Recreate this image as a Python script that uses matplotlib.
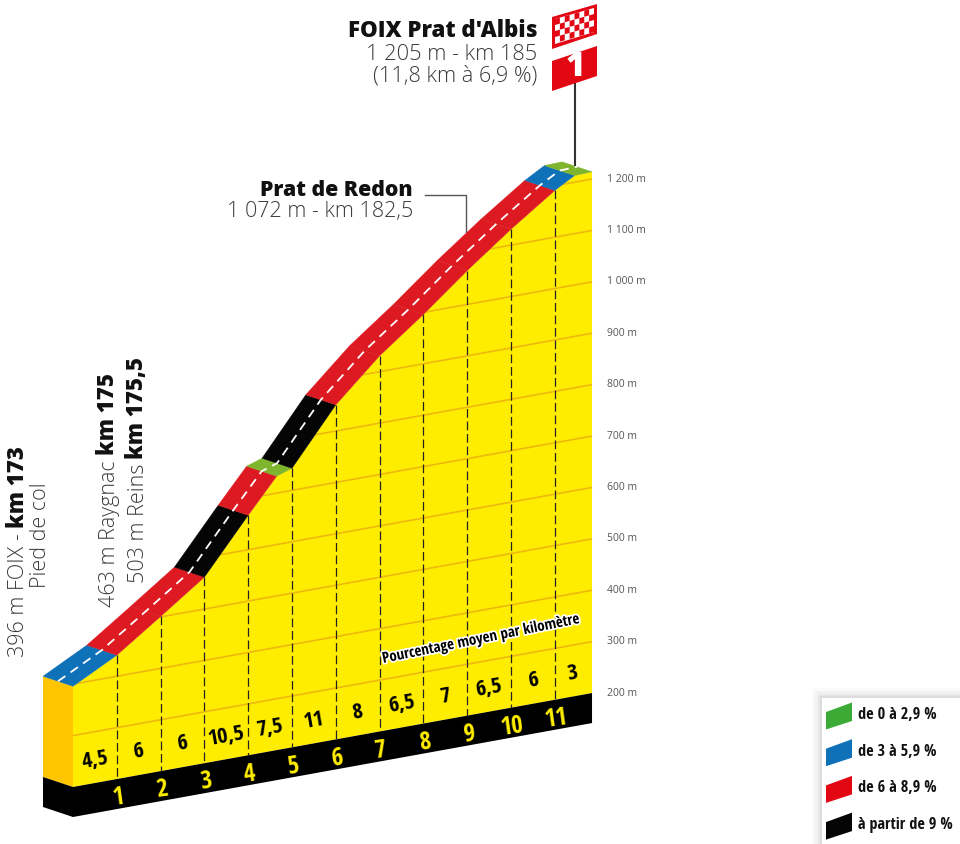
"""Climb profile of the Prat d'Albis stage finish, drawn in oblique view."""

import matplotlib
matplotlib.use("Agg")
import matplotlib.patheffects as pe
import matplotlib.pyplot as plt
from matplotlib.patches import Polygon, Rectangle

# Road profile: distance from the foot of the climb (km) and altitude (m)
profile_km = [0, 1, 2, 3, 4, 4.65, 5, 6, 7, 8, 9, 10, 11, 11.45, 11.85]
profile_alt = [396, 441, 501, 562, 667, 733, 743, 851, 931, 996, 1066, 1131, 1191, 1213, 1214]
segment_class = ["blue", "red", "red", "black", "red", "green", "black",
                 "red", "red", "red", "red", "red", "blue", "green"]

km_marks = [1, 2, 3, 4, 5, 6, 7, 8, 9, 10, 11]
km_percent = ["4,5", "6", "6", "10,5", "7,5", "11", "8", "6,5", "7", "6,5", "6", "3"]
km_percent_pos = [0.5, 1.5, 2.5, 3.5, 4.5, 5.5, 6.5, 7.5, 8.5, 9.5, 10.5, 11.4]
alt_ticks = [200, 300, 400, 500, 600, 700, 800, 900, 1000, 1100, 1200]
alt_labels = ["200 m", "300 m", "400 m", "500 m", "600 m", "700 m", "800 m",
              "900 m", "1 000 m", "1 100 m", "1 200 m"]

legend_classes = ["green", "blue", "red", "black"]
legend_labels = ["de 0 à 2,9 %", "de 3 à 5,9 %", "de 6 à 8,9 %", "à partir de 9 %"]

ROAD = {"green": "#7FB52C", "blue": "#0F71B8", "red": "#DD1A21", "black": "#050505"}
LEGEND = {"green": "#3DAA35", "blue": "#0F71B8", "red": "#E30613", "black": "#050505"}
YELLOW = "#FFED00"
SIDE = "#FFC600"
GRID = "#EDB90F"
GREY = "#3C3C3C"
SANS = ["Open Sans", "DejaVu Sans"]
NARROW = ["Open Sans Condensed", "Open Sans", "DejaVu Sans"]

# Oblique projection of (km, altitude) on to the page
X0, DX = 73, 43.8
Y0, SLOPE, DY = 788, 0.181, 0.514
BACK = (-30, -10)
BLOCK = 30


def project(km, alt):
    x = X0 + DX * km
    return x, Y0 - SLOPE * (x - X0) - (alt - 200) * DY


def back(pt):
    return pt[0] + BACK[0], pt[1] + BACK[1]


fig = plt.figure(figsize=(9.6, 8.45), dpi=100)
ax = fig.add_axes([0, 0, 1, 1])
ax.set_xlim(0, 960)
ax.set_ylim(845, 0)
ax.axis("off")

front = [project(k, a) for k, a in zip(profile_km, profile_alt)]
base_l = project(profile_km[0], 200)
base_r = project(profile_km[-1], 200)

# Yellow face, side and black plinth
face = Polygon(front + [base_r, base_l], closed=True, fc=YELLOW, ec="none", zorder=1)
ax.add_patch(face)
ax.add_patch(Polygon([back(front[0]), front[0], base_l, back(base_l)], fc=SIDE, ec="none", zorder=1))
plinth = [back(base_l), base_l, base_r, (base_r[0], base_r[1] + BLOCK),
          (base_l[0], base_l[1] + BLOCK), (back(base_l)[0], back(base_l)[1] + BLOCK)]
ax.add_patch(Polygon(plinth, fc="#000000", ec="none", zorder=2))

# Altitude lines, clipped to the face
for alt in alt_ticks[1:]:
    p0, p1 = project(profile_km[0], alt), project(profile_km[-1], alt)
    line, = ax.plot([p0[0], p1[0]], [p0[1], p1[1]], color=GRID, lw=1.2, zorder=2)
    line.set_clip_path(face)

# Kilometre dashes and numbers
for km in km_marks:
    alt = profile_alt[profile_km.index(km)]
    top, bottom = project(km, alt), project(km, 200)
    ax.plot([top[0], bottom[0]], [top[1], bottom[1]], color="#222222", lw=0.9,
            dashes=(7, 3), zorder=3)
    ax.text(bottom[0] + 1.5, bottom[1] + 18, str(km), color=YELLOW, fontsize=18, fontweight="bold",
            family=NARROW, rotation=8, ha="center", va="center", zorder=4)

for pos, pct in zip(km_percent_pos, km_percent):
    x, y = project(pos, 200)
    ax.text(x, y - 24, pct, color="#000000", fontsize=16, fontweight="bold", family=NARROW,
            rotation=10, ha="center", va="center", zorder=4)

# Road band, one quad per gradient class
for i, cls in enumerate(segment_class):
    a, b = front[i], front[i + 1]
    ax.add_patch(Polygon([a, b, back(b), back(a)], fc=ROAD[cls], ec=ROAD[cls], lw=0.3, zorder=5))
mid = [(p[0] + BACK[0] / 2, p[1] + BACK[1] / 2) for p in front]
ax.plot([p[0] for p in mid], [p[1] for p in mid], color="white", lw=1.3,
        dashes=(5, 3.5), zorder=6)

# Altitude scale
for alt, lab in zip(alt_ticks, alt_labels):
    y = project(profile_km[-1], alt)[1]
    ax.text(607, y - 1, lab, color="#555555", fontsize=7.5, family=SANS, va="center", ha="left")

ax.text(481, 640, "Pourcentage moyen par kilomètre", color="#000000", fontsize=10.8, fontweight="bold",
        family=NARROW, rotation=11.5, ha="center", va="center", zorder=7,
        path_effects=[pe.withStroke(linewidth=2.5, foreground="white")])

# Finish flag
ax.plot([575, 575], [85, 166], color="#333333", lw=1.5, zorder=4)
ax.add_patch(Polygon([(552, 62), (597, 47), (597, 77), (552, 92)], fc="#E30613", ec="none", zorder=7))
ax.text(575, 67, "1", color="white", fontsize=24, fontweight=800, family=SANS,
        ha="center", va="center", zorder=8)
ax.add_patch(Polygon([(552, 18), (597, 5), (597, 35), (552, 50)], fc="#E30613", ec="none", zorder=7))
ax.add_patch(Polygon([(555, 20), (594, 9), (594, 33), (555, 45)], fc="white", ec="none", zorder=8))
for col in range(8):
    for row in range(4):
        if (col + row) % 2:
            continue
        x0 = 555 + col * 39 / 8
        y0 = 20 - col * 11 / 8 + row * 6
        ax.add_patch(Polygon([(x0, y0), (x0 + 39 / 8, y0 - 11 / 8),
                              (x0 + 39 / 8, y0 - 11 / 8 + 6), (x0, y0 + 6)],
                             fc="#E30613", ec="none", zorder=9))

# Place names
ax.text(537, 31, "FOIX Prat d'Albis", color="#111111", fontsize=16, fontweight=800, family=SANS,
        ha="right", va="center")
ax.text(537, 54, "1 205 m - km 185", color=GREY, fontsize=15.7, fontweight=300, family=SANS,
        ha="right", va="center")
ax.text(537, 76, "(11,8 km à 6,9 %)", color=GREY, fontsize=15.7, fontweight=300, family=SANS,
        ha="right", va="center")
ax.text(413, 190, "Prat de Redon", color="#111111", fontsize=15.3, fontweight=800, family=SANS,
        ha="right", va="center")
ax.text(413, 212, "1 072 m - km 182,5", color=GREY, fontsize=15.5, fontweight=300, family=SANS,
        ha="right", va="center")
ax.plot([425, 466, 466], [196, 196, 233], color="#555555", lw=1, zorder=4)

renderer = fig.canvas.get_renderer()


def vertical_label(x, y, light, bold):
    # Light text then bold text running upwards from (x, y)
    t = ax.text(x, y, light, color=GREY, fontsize=15.5, fontweight=300, family=SANS,
                rotation=90, ha="center", va="bottom")
    top = 845 - t.get_window_extent(renderer).y1
    if bold:
        ax.text(x - 1, top - 5, bold, color="#111111", fontsize=16, fontweight=800, family=SANS,
                rotation=90, ha="center", va="bottom")


vertical_label(19, 657, "396 m FOIX -", "km 173")
vertical_label(40, 588, "Pied de col", "")
vertical_label(109, 607, "463 m Raygnac", "km 175")
vertical_label(138, 583, "503 m Reins", "km 175,5")

# Legend box with a soft shadow
for grow, alpha in zip([10, 7, 4, 2], [0.02, 0.03, 0.04, 0.05]):
    ax.add_patch(Rectangle((822 - grow, 699 - grow), 160, 160, fc="black", alpha=alpha, ec="none", zorder=10))
ax.add_patch(Rectangle((822, 699), 140, 148, fc="white", ec="none", zorder=11))
for i, (cls, lab) in enumerate(zip(legend_classes, legend_labels)):
    y = 713 + i * 36.7
    ax.add_patch(Polygon([(826, y), (852, y - 9.5), (852, y + 9), (826, y + 17.5)],
                         fc=LEGEND[cls], ec="none", zorder=12))
    ax.text(858, y + 2, lab, color="#111111", fontsize=11.7, fontweight="bold", family=NARROW,
            ha="left", va="center", zorder=12)

fig.savefig("out.png", dpi=100)
plt.close(fig)
